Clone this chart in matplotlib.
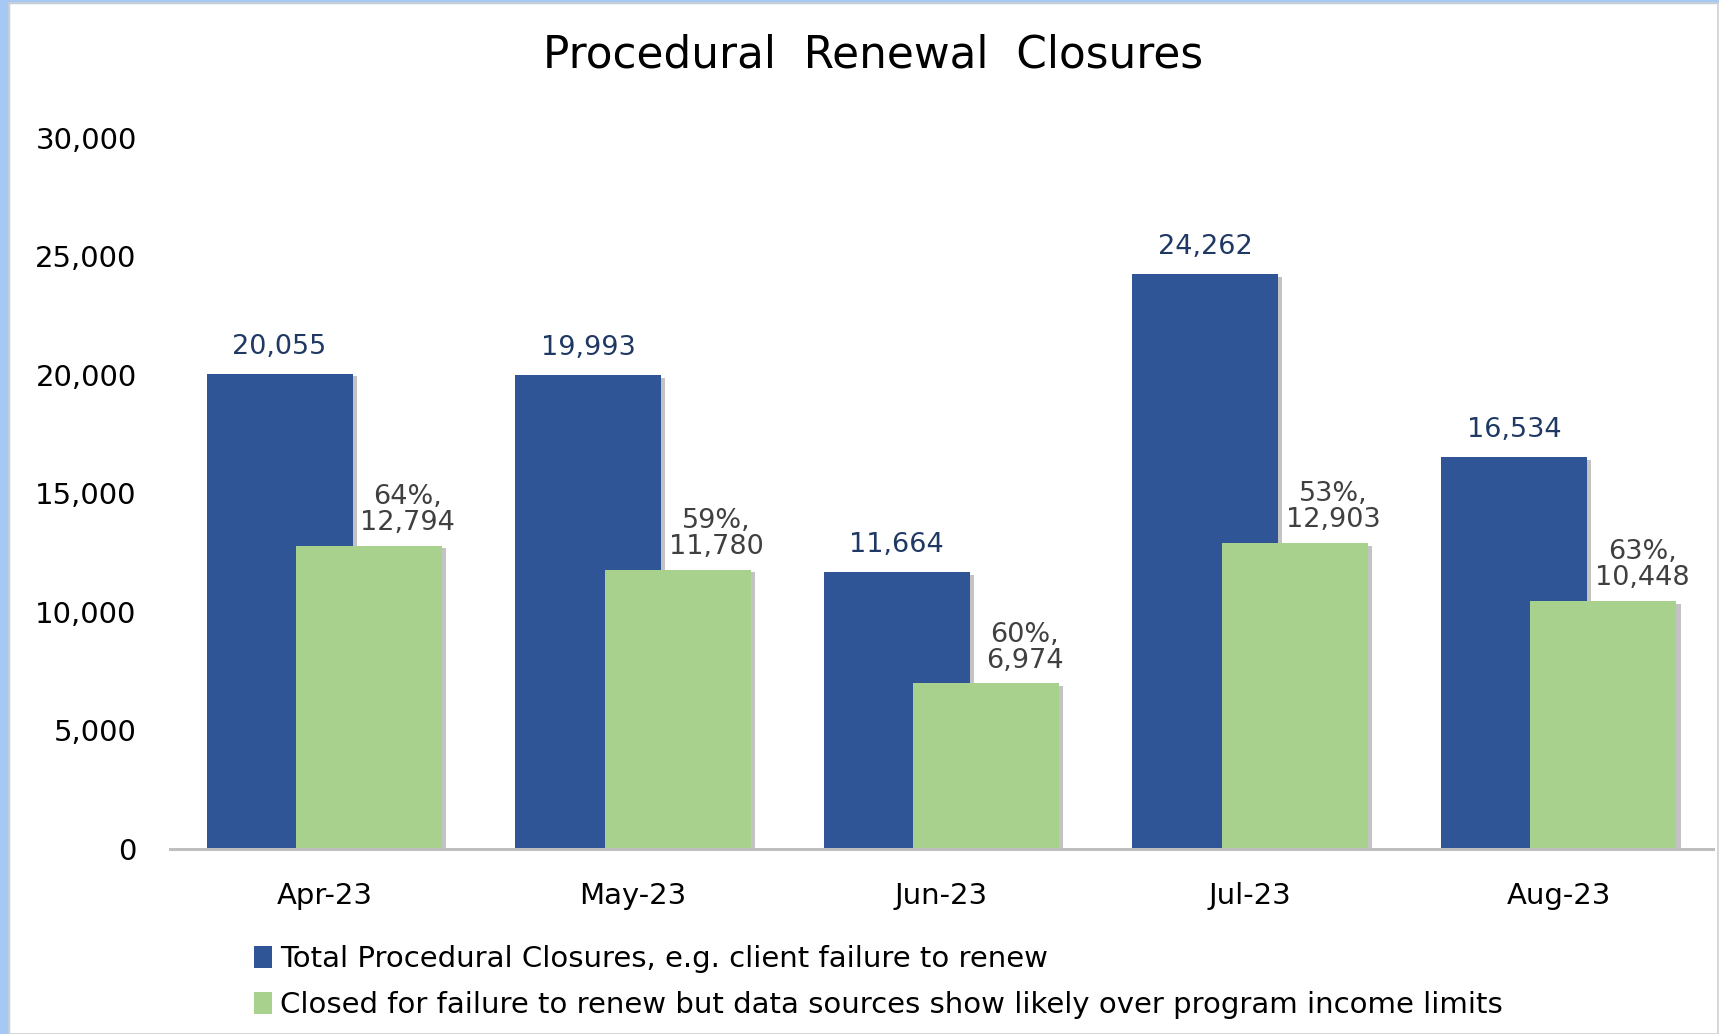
import numpy as np
import matplotlib
matplotlib.use("Agg")
import matplotlib.pyplot as plt
import matplotlib.patheffects as pe
from matplotlib.patches import Rectangle, Patch

months = ["Apr-23", "May-23", "Jun-23", "Jul-23", "Aug-23"]
total_closures = [20055, 19993, 11664, 24262, 16534]
over_income = [12794, 11780, 6974, 12903, 10448]
over_income_pct = [64, 59, 60, 53, 63]

series_names = ["Total Procedural Closures, e.g. client failure to renew",
                "Closed for failure to renew but data sources show likely over program income limits"]

blue = "#2F5597"
green = "#A9D18E"

fig = plt.figure(figsize=(17.19, 10.34), dpi=100)
ax = fig.add_axes([0.0989, 0.1794, 0.8976, 0.6871])

x = np.arange(len(months))
w = 0.473
off = 0.145
shadow = [pe.SimplePatchShadow(offset=(3, -2), shadow_rgbFace="#555555", alpha=0.35), pe.Normal()]

b1 = ax.bar(x - off, total_closures, width=w, color=blue, zorder=2)
b2 = ax.bar(x + off, over_income, width=w, color=green, zorder=3)
for b in list(b1) + list(b2):
    b.set_path_effects(shadow)

for xi, v in zip(x, total_closures):
    ax.annotate(f"{v:,}", (xi - off, v), xytext=(0, 10), textcoords="offset points",
                ha="center", va="bottom", fontsize=19.5, color="#1F3864")
for xi, v, p in zip(x, over_income, over_income_pct):
    ax.annotate(f"{p}%,\n{v:,}", (xi + off + 0.125, v), xytext=(0, 7), textcoords="offset points",
                ha="center", va="bottom", fontsize=19.5, color="#404040", linespacing=1.0)

ax.set_xlim(-0.5, len(months) - 0.5)
ax.set_ylim(0, 30000)
ax.set_yticks(np.arange(0, 30001, 5000))
ax.set_yticklabels([f"{t:,}" for t in range(0, 30001, 5000)])
ax.set_xticks(x)
ax.set_xticklabels(months)
ax.tick_params(axis="y", length=0, pad=24, labelsize=21)
ax.tick_params(axis="x", length=0, pad=24, labelsize=21)
for s in ["top", "right", "left"]:
    ax.spines[s].set_visible(False)
ax.spines["bottom"].set_color("#BFBFBF")
ax.spines["bottom"].set_linewidth(2.2)
ax.spines["bottom"].set_zorder(4)

fig.text(0.508, 0.947, "Procedural  Renewal  Closures", ha="center", va="center", fontsize=31.5)

handles = [Patch(facecolor=blue), Patch(facecolor=green)]
fig.legend(handles, series_names, loc="upper left", bbox_to_anchor=(0.141, 0.097),
           frameon=False, handlelength=0.6, handleheight=0.8, handletextpad=0.3,
           labelspacing=0.62, borderaxespad=0,
           prop={"size": 21})

# frame: light blue strip on left/top, thin grey border
fig.patches.append(Rectangle((0, 0), 0.0055, 1, transform=fig.transFigure, color="#A6C8F5", zorder=0))
fig.patches.append(Rectangle((0, 0.997), 1, 0.003, transform=fig.transFigure, color="#A6C8F5", zorder=0))
fig.patches.append(Rectangle((0.0055, 0), 0.994, 0.997, transform=fig.transFigure, fill=False,
                             edgecolor="#D0D0D0", linewidth=1.2, zorder=0))

fig.savefig("out.png", dpi=100)
